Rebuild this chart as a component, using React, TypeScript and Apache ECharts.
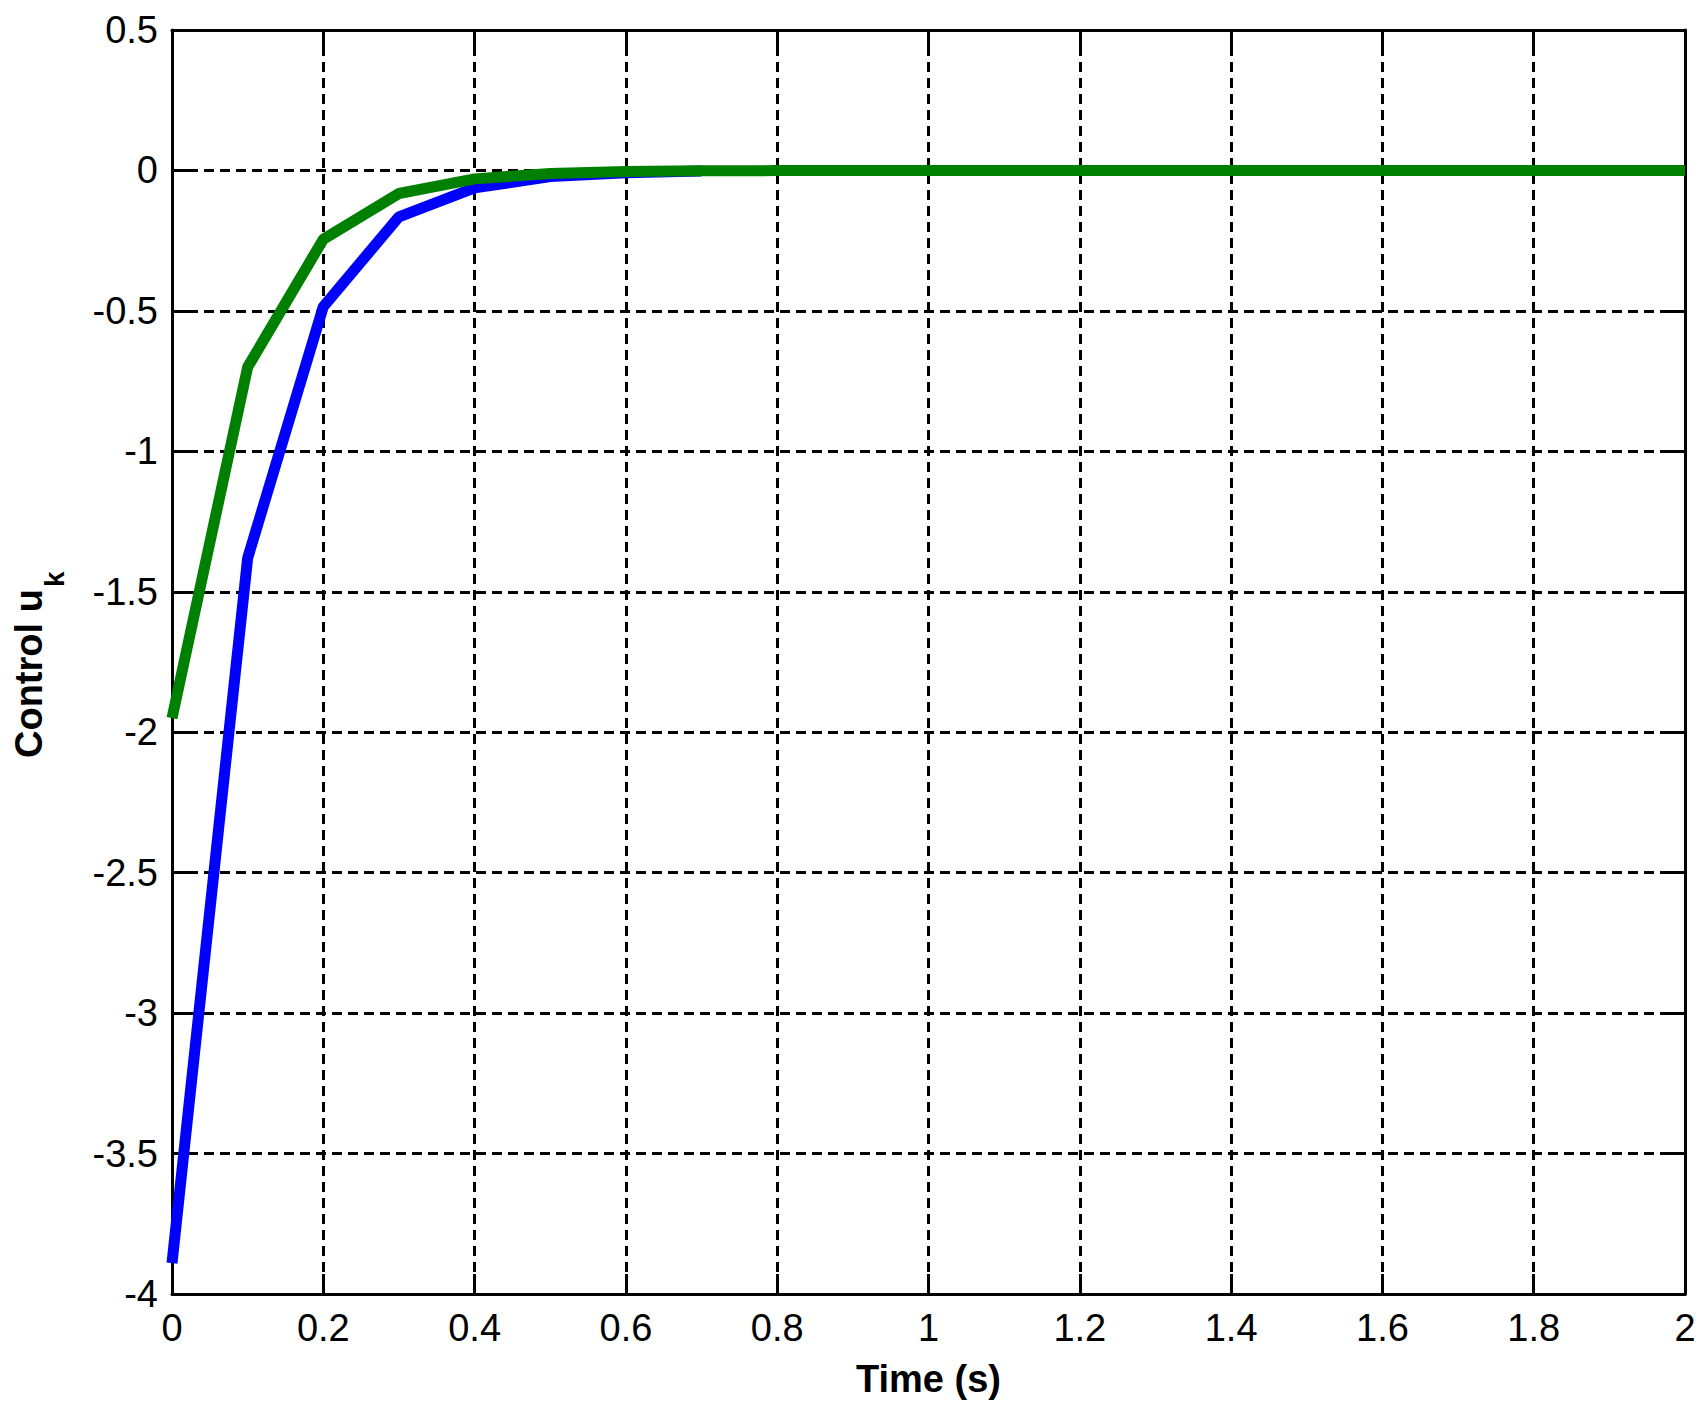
import React, { useEffect, useRef } from "react";
import * as echarts from "echarts";

// Time samples (s)
const timeSteps = [0, 0.1, 0.2, 0.3, 0.4, 0.5, 0.6, 0.7, 0.8, 0.9, 1.0, 1.1, 1.2, 1.3, 1.4, 1.5, 1.6, 1.7, 1.8, 1.9, 2.0];
// Blue control trajectory (ends at t = 0.7)
const blueValues = [-3.89, -1.38, -0.485, -0.165, -0.062, -0.022, -0.008, -0.002];
// Green control trajectory
const greenValues = [-1.95, -0.70, -0.245, -0.082, -0.030, -0.011, -0.004, -0.0015, -0.0005, 0, 0, 0, 0, 0, 0, 0, 0, 0, 0, 0, 0];
// Axis ticks
const xTickValues = [0, 0.2, 0.4, 0.6, 0.8, 1, 1.2, 1.4, 1.6, 1.8, 2];
const yTickValues = [-4, -3.5, -3, -2.5, -2, -1.5, -1, -0.5, 0, 0.5];

const FONT = "'Liberation Sans', Arial, Helvetica, sans-serif";

export default function App() {
  const ref = useRef<HTMLDivElement>(null);
  useEffect(() => {
    if (!ref.current) return;
    const chart = echarts.init(ref.current, null, { renderer: "svg" });
    const xMin = xTickValues[0];
    const xMax = xTickValues[xTickValues.length - 1];
    const xStep = xTickValues[1] - xTickValues[0];
    const yMin = yTickValues[0];
    const yMax = yTickValues[yTickValues.length - 1];
    const yStep = yTickValues[1] - yTickValues[0];

    const dashed = { color: "#000", width: 3, type: [10, 6] as number[] };
    const tick = { show: true, inside: true, length: 20, lineStyle: { color: "#000", width: 3 } };
    const axisLine = { show: true, onZero: false, lineStyle: { color: "#000", width: 3 } };

    chart.setOption({
      animation: false,
      backgroundColor: "#fff",
      grid: { left: 172, top: 30, right: 23, bottom: 122, containLabel: false },
      xAxis: [
        {
          type: "value",
          min: xMin,
          max: xMax,
          interval: xStep,
          position: "bottom",
          axisLine,
          axisTick: tick,
          splitLine: { show: true, lineStyle: dashed },
          axisLabel: { color: "#000", fontSize: 38, fontFamily: FONT, margin: 15 },
          name: "Time (s)",
          nameLocation: "middle",
          nameGap: 66,
          nameTextStyle: { color: "#000", fontSize: 38, fontWeight: "bold", fontFamily: FONT },
        },
        {
          type: "value",
          min: xMin,
          max: xMax,
          interval: xStep,
          position: "top",
          axisLine,
          axisTick: tick,
          splitLine: { show: false },
          axisLabel: { show: false },
        },
      ],
      yAxis: [
        {
          type: "value",
          min: yMin,
          max: yMax,
          interval: yStep,
          position: "left",
          axisLine,
          axisTick: tick,
          splitLine: { show: true, lineStyle: dashed },
          axisLabel: { color: "#000", fontSize: 38, fontFamily: FONT, margin: 14 },
        },
        {
          type: "value",
          min: yMin,
          max: yMax,
          interval: yStep,
          position: "right",
          axisLine,
          axisTick: tick,
          splitLine: { show: false },
          axisLabel: { show: false },
        },
      ],
      series: [
        {
          type: "line",
          data: blueValues.map((v, i) => [timeSteps[i], v]),
          showSymbol: false,
          symbol: "none",
          lineStyle: { color: "#0000ff", width: 11 },
          z: 3,
        },
        {
          type: "line",
          data: greenValues.map((v, i) => [timeSteps[i], v]),
          showSymbol: false,
          symbol: "none",
          lineStyle: { color: "#008000", width: 11 },
          z: 4,
        },
      ],
      graphic: [
        {
          type: "group",
          x: 0,
          y: 665,
          rotation: Math.PI / 2,
          children: [
            {
              type: "text",
              x: -93,
              y: 29,
              style: {
                text: "Control u",
                fill: "#000",
                font: `bold 38px ${FONT}`,
                textAlign: "left",
                textVerticalAlign: "middle",
              },
            },
            {
              type: "text",
              x: 78,
              y: 54,
              style: {
                text: "k",
                fill: "#000",
                font: `bold 28px ${FONT}`,
                textAlign: "left",
                textVerticalAlign: "middle",
              },
            },
          ],
        },
      ],
    });
    return () => chart.dispose();
  }, []);
  return (
    <div
      ref={ref}
      style={{ position: "absolute", left: 0, top: 0, width: 1708, height: 1416, background: "#fff" }}
    />
  );
}
